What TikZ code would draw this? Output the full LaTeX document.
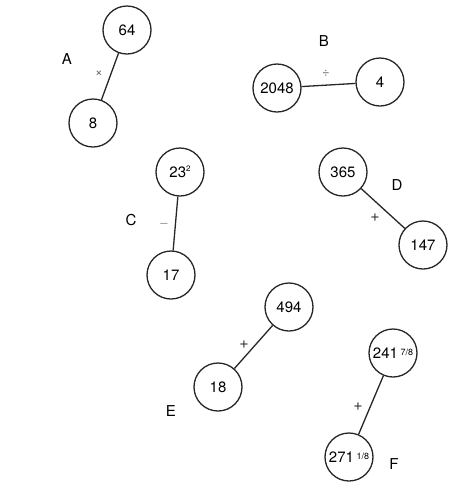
\documentclass[tikz,border=0pt]{standalone}
\usepackage{fontspec}
\setmainfont{TeX Gyre Heros}
\begin{document}
\begin{tikzpicture}[x=1pt,y=-1pt,
  num/.style={draw=black!85,circle,line width=1.3pt,minimum size=48pt,inner sep=0pt,font=\fontsize{15}{17}\selectfont},
  lbl/.style={font=\fontsize{15}{17}\selectfont},
  op/.style={font=\fontsize{13}{15}\selectfont,text=black!60},
  plus/.style={font=\fontsize{16}{18}\selectfont,text=black!80},
  link/.style={line width=1.3pt,draw=black!85}]
\useasboundingbox (0,0) rectangle (451,483);
\newcommand{\smfrac}[1]{\,\raisebox{0.35ex}{\fontsize{9}{10}\selectfont #1}}
% A
\node[num] (a1) at (127,30) {64};
\node[num] (a2) at (93,123) {8};
\draw[link] (a1) -- (a2);
\node[lbl] (la) at (67,59) {A};
\node[op] (oa) at (99,74) {×};
% B
\node[num] (b1) at (277,88) {2048};
\node[num] (b2) at (380,82) {4};
\draw[link] (b1) -- (b2);
\node[lbl] (lb) at (324,41) {B};
\node[op] (ob) at (326,73) {÷};
% C
\node[num] (c1) at (180,172) {23\raisebox{0.7ex}{\fontsize{8}{9}\selectfont 2}};
\node[num] (c2) at (171,275) {17};
\draw[link] (c1) -- (c2);
\node[lbl] (lc) at (131,220) {C};
\node[op,text=black!40] (oc) at (164,225) {–};
% D
\node[num] (d1) at (343,172) {365};
\node[num] (d2) at (423,245) {147};
\draw[link] (d1) -- (d2);
\node[lbl] (ld) at (397,185) {D};
\node[plus] (od) at (375,218) {+};
% E
\node[num] (e1) at (289,307) {494};
\node[num] (e2) at (218,387) {18};
\draw[link] (e1) -- (e2);
\node[lbl] (le) at (171,411) {E};
\node[plus] (oe) at (244,345) {+};
% F
\node[num] (f1) at (393,353) {241\smfrac{7/8}};
\node[num] (f2) at (349,457) {271\smfrac{1/8}};
\draw[link] (f1) -- (f2);
\node[lbl] (lf) at (394,464) {F};
\node[plus] (of) at (358,407) {+};
\end{tikzpicture}
\end{document}
